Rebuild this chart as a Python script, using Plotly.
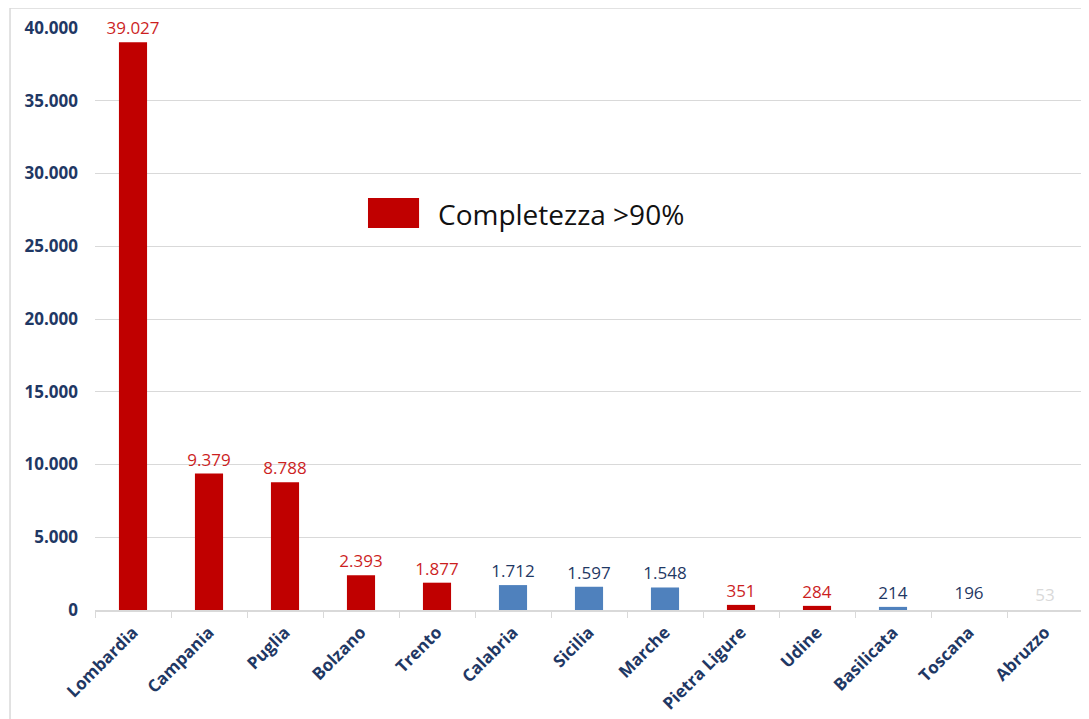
import plotly.graph_objects as go

categories = ["Lombardia", "Campania", "Puglia", "Bolzano", "Trento", "Calabria",
              "Sicilia", "Marche", "Pietra Ligure", "Udine", "Basilicata", "Toscana", "Abruzzo"]
values = [39027, 9379, 8788, 2393, 1877, 1712, 1597, 1548, 351, 284, 214, 196, 53]
group = ["red", "red", "red", "red", "red", "blue", "blue", "blue", "red", "red", "blue", "none", "none"]
legend_label = "Completezza >90%"
y_ticks = [0, 5000, 10000, 15000, 20000, 25000, 30000, 35000, 40000]

RED = "#C00000"
RED_TXT = "#CC1F1F"
BLUE = "#4F81BD"
NAVY = "#1F3864"
GRID = "#D9D9D9"
FONT = "Open Sans, Noto Sans, sans-serif"

styles = {
    "red": dict(color=RED, text=RED_TXT),
    "blue": dict(color=BLUE, text=NAVY),
}

fig = go.Figure()

def sub(g):
    return [v if gr == g else None for v, gr in zip(values, group)]

for g in ["red", "blue"]:
    fig.add_trace(go.Bar(
        x=categories, y=sub(g),
        marker=dict(color=styles[g]["color"], line=dict(width=0)),
        texttemplate="%{y:,d}", textposition="outside", constraintext="none",
        textfont=dict(color=styles[g]["text"], size=17, family=FONT),
        cliponaxis=False, showlegend=False,
    ))

# Toscana (dark label) and Abruzzo (light label) with no visible bars
none_text_colors = [NAVY if c == "Toscana" else "#D9D9D9" for c in categories]
fig.add_trace(go.Bar(
    x=categories, y=sub("none"),
    marker=dict(color="rgba(0,0,0,0)", line=dict(width=0)),
    texttemplate="%{y:,d}", textposition="outside", constraintext="none",
    textfont=dict(color=none_text_colors, size=17, family=FONT),
    cliponaxis=False, showlegend=False,
))

fig.update_layout(
    width=1089, height=719,
    margin=dict(l=87, r=14, t=20, b=117),
    paper_bgcolor="white", plot_bgcolor="white",
    barmode="relative", bargap=0.63,
    separators=",.",
    font=dict(family=FONT, color=NAVY),
    showlegend=False,
    xaxis=dict(
        tickangle=-45, showline=True, linecolor=GRID, linewidth=1.5,
        ticks="outside", tickson="boundaries", ticklen=6, tickcolor=GRID,
        tickfont=dict(size=17, color=NAVY, family=FONT, weight="bold"),
        ticklabelstandoff=4,
        showgrid=False, automargin=False,
    ),
    yaxis=dict(
        range=[0, 40000], tickvals=y_ticks, tickformat=",d",
        showgrid=True, gridcolor=GRID, gridwidth=1, zeroline=False,
        tickfont=dict(size=17, color=NAVY, family=FONT, weight="bold"),
        ticklabelstandoff=16, automargin=False,
    ),
)

# legend drawn as swatch + text
fig.add_shape(type="rect", xref="paper", yref="paper",
              x0=0.2763, x1=0.328, y0=0.6564, y1=0.7079,
              fillcolor=RED, line=dict(width=0))
fig.add_annotation(xref="paper", yref="paper", x=0.345, y=0.680,
                   xanchor="left", yanchor="middle", showarrow=False,
                   text=legend_label, font=dict(size=28, color="#111111", family=FONT))

# chart frame
fig.add_shape(type="rect", xref="paper", yref="paper",
              x0=-0.086, x1=1.02, y0=-0.25, y1=1.0344,
              line=dict(color=GRID, width=1.5), fillcolor="rgba(0,0,0,0)", layer="below")

fig.write_html("out.html")
